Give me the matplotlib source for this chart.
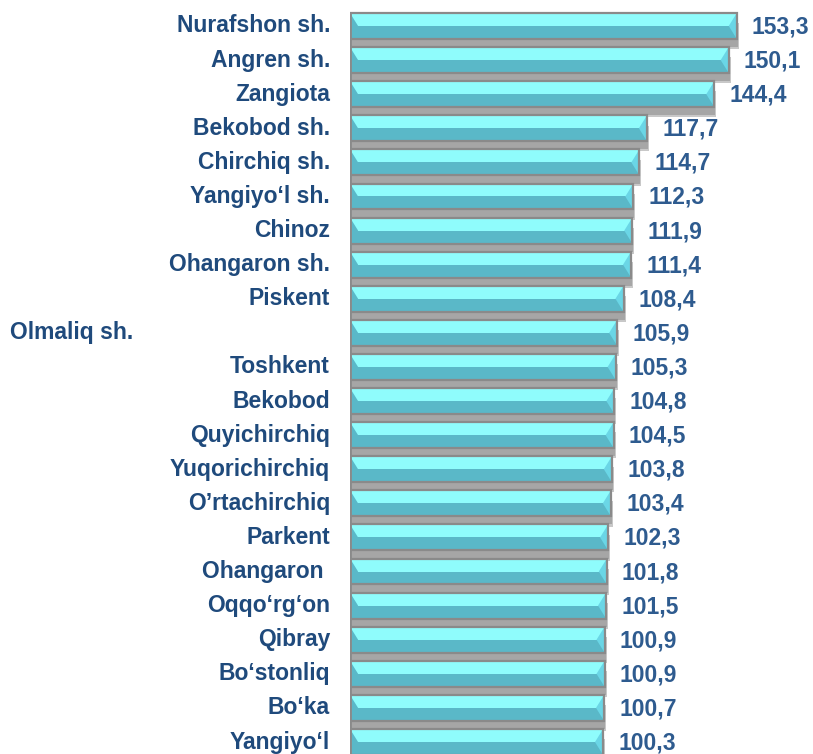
import matplotlib
matplotlib.use("Agg")
import matplotlib.pyplot as plt
import matplotlib.transforms as mtransforms
import numpy as np

districts = [
    "Nurafshon sh.", "Angren sh.", "Zangiota", "Bekobod sh.", "Chirchiq sh.",
    "Yangiyo\u2018l sh.", "Chinoz", "Ohangaron sh.", "Piskent", "Olmaliq sh.",
    "Toshkent", "Bekobod", "Quyichirchiq", "Yuqorichirchiq", "O\u2019rtachirchiq",
    "Parkent", "Ohangaron ", "Oqqo\u2018rg\u2018on", "Qibray", "Bo\u2018stonliq",
    "Bo\u2018ka", "Yangiyo\u2018l",
]
values = [153.3, 150.1, 144.4, 117.7, 114.7, 112.3, 111.9, 111.4, 108.4, 105.9,
          105.3, 104.8, 104.5, 103.8, 103.4, 102.3, 101.8, 101.5, 100.9, 100.9,
          100.7, 100.3]

label_color = "#1f4a7c"
value_color = "#2e5b8f"
light = "#8ffcfc"
dark = "#5ab8c8"
mid = "#6ad6e6"

fig = plt.figure(figsize=(8.13, 7.54), dpi=100)
ax = fig.add_axes([350 / 813, 0, 463 / 813, 1])

n = len(values)
y = np.arange(n)
vals = np.array(values)
h = 0.76
bevel = 3.2  # width of end bevels in data units

# soft grey shadow under each bar
ax.barh(y + 0.30, vals + 0.8, height=h, color="#c8c8c8", zorder=1)
ax.barh(y + 0.24, vals + 0.4, height=h, color="#a6a6a6", zorder=1.1)

# bar body: light upper half, darker lower half
ax.barh(y - h / 2, vals, height=h / 2, align="edge", color=light, zorder=2)
ax.barh(y, vals, height=h / 2, align="edge", color=dark, zorder=2)

# bevelled ends
for yi, v in zip(y, vals):
    top, bot = yi - h / 2, yi + h / 2
    ax.fill([v, v - bevel, v], [top, yi, bot], color=mid, zorder=3, lw=0)
    ax.fill([0, bevel, 0], [top, yi, bot], color=dark, zorder=3, lw=0)

# grey border
ax.barh(y, vals, height=h, fill=False, edgecolor="#8a8a8a", linewidth=1.6, zorder=4)

ax.set_xlim(0, 183.5)
ax.set_ylim(n - 1 + 12 / 34.1, -26 / 34.1)
ax.axis("off")
ax.vlines(0, -h / 2, n, color="#8a8a8a", lw=2, zorder=5)

trans = mtransforms.blended_transform_factory(ax.transAxes, ax.transData)
for yi, name, v in zip(y, districts, vals):
    if name == "Olmaliq sh.":
        ax.text(-340 / 463, yi, name, transform=trans, ha="left", va="center",
                fontsize=16.5, fontweight="bold", color=label_color,
                family="Liberation Sans")
    else:
        ax.text(-20 / 463, yi, name, transform=trans, ha="right", va="center",
                fontsize=16.5, fontweight="bold", color=label_color,
                family="Liberation Sans")
    ax.text(v + 6.0, yi + 0.03, f"{v:.1f}".replace(".", ","), ha="left", va="center",
            fontsize=16.5, fontweight="bold", color=value_color,
            family="Liberation Sans")

fig.savefig("out.png", dpi=100)
